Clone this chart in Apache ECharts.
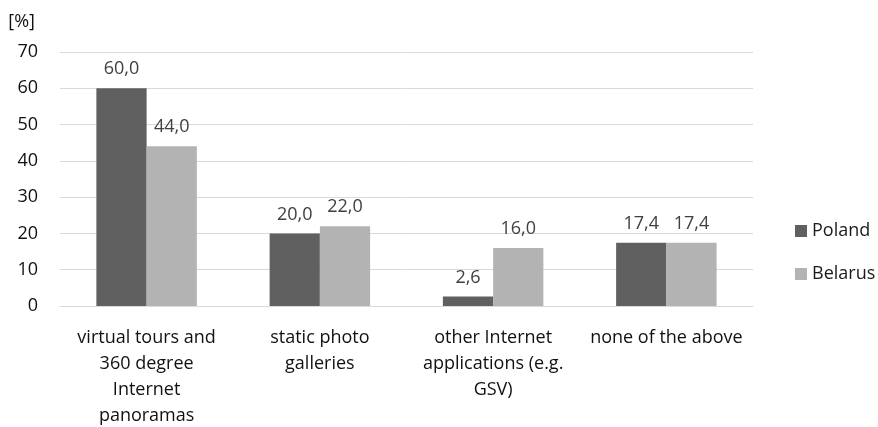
<!DOCTYPE html>
<html>
<head>
<meta charset="utf-8">
<script src="https://cdn.jsdelivr.net/npm/echarts@6/dist/echarts.min.js"></script>
<style>
  html, body { margin: 0; padding: 0; background: #fff; }
  #chart { width: 878px; height: 427px; }
</style>
</head>
<body>
<div id="chart"></div>
<script>
// Share of respondents by preferred form of online presentation
const categories = [
  'virtual tours and\n360 degree\nInternet\npanoramas',
  'static photo\ngalleries',
  'other Internet\napplications (e.g.\nGSV)',
  'none of the above'
];
const poland = [60.0, 20.0, 2.6, 17.4];
const belarus = [44.0, 22.0, 16.0, 17.4];
const seriesNames = ['Poland', 'Belarus'];
const yTicks = { min: 0, max: 70, step: 10 };

const FONT = '"Open Sans"';
const FS = 18;
const chart = echarts.init(document.getElementById('chart'), null, { renderer: 'canvas' });

const valueLabel = {
  show: true,
  position: 'top',
  distance: 10,
  fontFamily: FONT,
  fontSize: FS,
  color: '#404040',
  formatter: p => p.value.toFixed(1).replace('.', ',')
};

chart.setOption({
  animation: false,
  textStyle: { fontFamily: FONT },
  grid: {
    left: 60, right: 125, top: 52, bottom: 121,
    containLabel: false,
    outerBoundsMode: 'none'
  },
  legend: {
    orient: 'vertical',
    left: 790,
    top: 217,
    itemWidth: 12,
    itemHeight: 12,
    itemGap: 25,
    icon: 'rect',
    textStyle: { fontFamily: FONT, fontSize: FS, color: '#1a1a1a' },
    data: seriesNames
  },
  xAxis: {
    type: 'category',
    data: categories,
    axisLine: { show: true, lineStyle: { color: '#d9d9d9', width: 1 } },
    axisTick: { show: false },
    axisLabel: {
      fontFamily: FONT,
      fontSize: FS,
      color: '#111',
      lineHeight: 26,
      margin: 19,
      interval: 0
    }
  },
  yAxis: {
    type: 'value',
    min: yTicks.min,
    max: yTicks.max,
    interval: yTicks.step,
    name: '[%]',
    nameLocation: 'end',
    nameGap: 30,
    nameTextStyle: {
      fontFamily: FONT, fontSize: FS, color: '#111',
      align: 'right', verticalAlign: 'middle', padding: [0, 25, 0, 0]
    },
    axisLine: { show: false },
    axisTick: { show: false },
    splitLine: { lineStyle: { color: '#d9d9d9', width: 1 } },
    axisLabel: { fontFamily: FONT, fontSize: FS, color: '#111', margin: 22 }
  },
  series: [
    {
      name: seriesNames[0],
      type: 'bar',
      data: poland,
      barGap: '0%',
      barCategoryGap: '42%',
      itemStyle: { color: '#606060' },
      label: valueLabel
    },
    {
      name: seriesNames[1],
      type: 'bar',
      data: belarus,
      barGap: '0%',
      barCategoryGap: '42%',
      itemStyle: { color: '#b3b3b3' },
      label: valueLabel
    }
  ]
});
</script>
</body>
</html>
